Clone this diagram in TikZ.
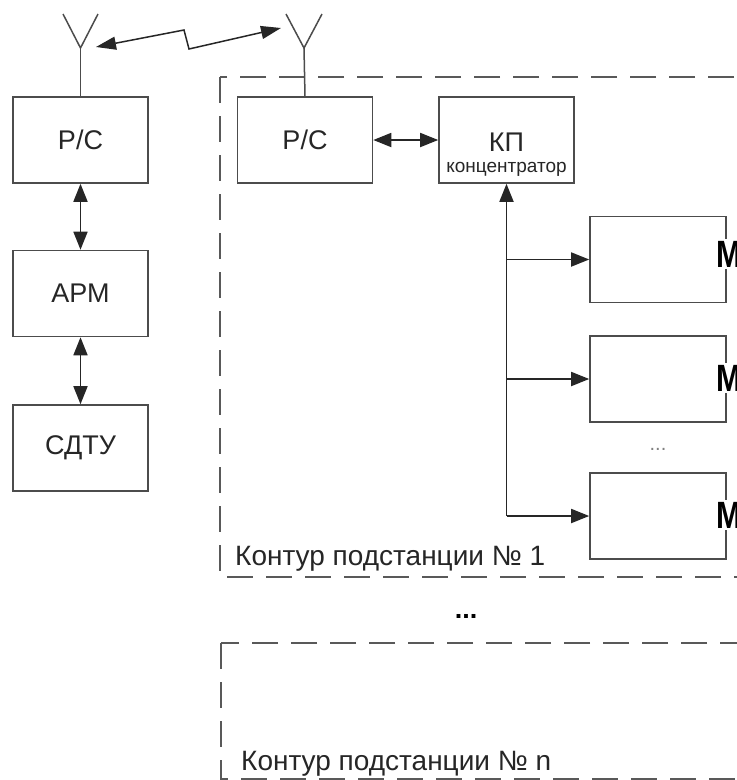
\documentclass[tikz,border=0pt]{standalone}
\usepackage{fontspec}
\setmainfont{Liberation Sans}
\usetikzlibrary{arrows.meta}

\begin{document}
\begin{tikzpicture}[x=1pt,y=-1pt,font=\fontsize{27}{32}\selectfont,
        >={Triangle[length=18pt,width=14pt]},
        blok/.style={draw=black!70,line width=1.6pt,minimum width=135pt,minimum height=86pt,inner sep=0pt,text=black!85},
        kontur/.style={draw=black!65,line width=1.6pt,dash pattern=on 26pt off 13pt},
        svyaz/.style={draw=black!85,line width=1.8pt},
        ant/.style={draw=black!70,line width=1.5pt},
        metka/.style={font=\fontsize{38}{40}\selectfont\bfseries,fill=white,inner sep=2pt,anchor=west}]
        \useasboundingbox (0,0) rectangle (737,780);
        \clip (0,0) rectangle (737,780);
        %% contours
        \draw[kontur] (220,77) rectangle (737.5,577);
        \draw[kontur] (221,643) rectangle (737.5,779);
        \node[anchor=base west,inner sep=0pt,text=black!85,font=\fontsize{28}{32}\selectfont] (k1) at (235,565) {Контур подстанции № 1};
        \node[anchor=base west,inner sep=0pt,text=black!85,font=\fontsize{28}{32}\selectfont] (kn) at (241,770) {Контур подстанции № n};
        \node[anchor=base,font=\fontsize{27}{30}\selectfont\bfseries] (dots) at (466,618) {...};
        %% dispatch side
        \node[blok] (rs1) at (80.5,140) {Р/С};
        \node[blok] (arm) at (80.5,293.5) {АРМ};
        \node[blok] (sdtu) at (80.5,448) {СДТУ};
        \draw[svyaz,<->] (rs1) -- (arm);
        \draw[svyaz,<->] (arm) -- (sdtu);
        %% substation side
        \node[blok] (rs2) at (305,140) {Р/С};
        \node[blok] (kp) at (506.5,140) {};
        \node[anchor=base,text=black!85] (kpt) at (506.5,151) {КП};
        \node[anchor=base,text=black!85,font=\fontsize{19}{22}\selectfont] (kpk) at (506.5,172) {концентратор};
        \draw[svyaz,<->] (rs2) -- (kp);
        \node[blok,minimum width=136pt] (mp1) at (658,259.5) {};
        \node[blok,minimum width=136pt] (mp2) at (658,379) {};
        \node[blok,minimum width=136pt] (mp3) at (658,516) {};
        \node[anchor=base,text=black!50,font=\fontsize{20}{24}\selectfont] (mdots) at (658,450) {...};
        \draw[svyaz,->] (kp.south |- mp3.west) -- (kp.south);
        \foreach \m in {mp1,mp2,mp3}
            \draw[svyaz,->] (kp.south |- \m.west) -- (\m.west);
        \node[metka] (m1) at (714,254) {\scalebox{0.8}[1]{М}};
        \node[metka] (m2) at (714,378) {\scalebox{0.8}[1]{М}};
        \node[metka] (m3) at (714,515) {\scalebox{0.8}[1]{М}};
        %% antennas
        \coordinate (a1) at (80.5,48);
        \draw[ant] (63,14) -- (a1) -- (98,14);
        \draw[ant] (a1) -- (rs1.north);
        \coordinate (a2) at (304,48);
        \draw[ant] (286,14) -- (a2) -- (322,14);
        \draw[ant] (a2) -- (rs2.north);
        %% radio link
        \coordinate (z1) at (96,47);
        \coordinate (z2) at (281,28);
        \draw[svyaz,line width=1.5pt,<->,>={Triangle[length=20pt,width=13pt]}] (z1) -- (184,30) -- (189,49) -- (z2);
    \end{tikzpicture}
\end{document}
